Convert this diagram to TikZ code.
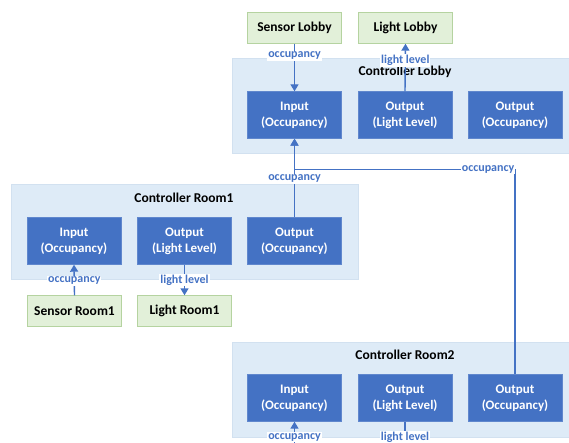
\documentclass[tikz,border=0pt]{standalone}
\usepackage{fontspec}
\setmainfont{Carlito}
\usetikzlibrary{arrows.meta}
\definecolor{ctrlfill}{HTML}{DEEBF7}
\definecolor{ctrledge}{HTML}{D2E1F0}
\definecolor{portfill}{HTML}{4472C4}
\definecolor{devfill}{HTML}{E2F0D9}
\definecolor{devedge}{HTML}{B5D3A0}
\definecolor{wire}{HTML}{4472C4}
\tikzset{
  ctrl/.style={draw=ctrledge, fill=ctrlfill, line width=0.8pt, minimum height=95pt, inner sep=0pt},
  ctrltitle/.style={font=\bfseries\fontsize{13.5}{15}\selectfont, text=black, inner sep=0pt},
  port/.style={draw=portfill!85!white, fill=portfill, minimum width=94pt, minimum height=47pt,
    inner sep=0pt, align=center, text=white, font=\bfseries\fontsize{13}{16}\selectfont},
  device/.style={draw=devedge, fill=devfill, minimum width=94pt, minimum height=31pt,
    inner sep=0pt, font=\bfseries\fontsize{13.5}{15}\selectfont},
  link/.style={draw=wire, line width=1.4pt},
  tip/.style={-{Triangle[length=7pt,width=8pt]}},
  tag/.style={fill=white, text=wire, inner sep=1pt, font=\bfseries\fontsize{12}{13}\selectfont}
}
\begin{document}
\begin{tikzpicture}[x=1pt,y=-1pt]
\useasboundingbox (0,0) rectangle (569,443);

% controllers
\node[ctrl, minimum width=337pt] (cl) at (400.5,105.5) {};
\node[ctrl, minimum width=347pt] (c1) at (184.5,232) {};
\node[ctrl, minimum width=337pt] (c2) at (400.5,390) {};
\node[ctrltitle] (clt) at (405,72) {Controller Lobby};
\node[ctrltitle] (c1t) at (184,198) {Controller Room1};
\node[ctrltitle] (c2t) at (405,355) {Controller Room2};

% lobby
\node[device] (sl) at (294.5,28) {Sensor Lobby};
\node[device] (ll) at (405.5,28) {Light Lobby};
\node[port] (li) at (294.5,115) {Input\\(Occupancy)};
\node[port] (llo) at (405,115) {Output\\(Light Level)};
\node[port] (loo) at (515,115) {Output\\(Occupancy)};

% room 1
\node[port] (r1i) at (74,241) {Input\\(Occupancy)};
\node[port] (r1lo) at (184.5,241) {Output\\(Light Level)};
\node[port] (r1oo) at (294.5,241) {Output\\(Occupancy)};
\node[device] (sr1) at (74.5,311) {Sensor Room1};
\node[device] (lr1) at (184.5,311) {Light Room1};

% room 2
\node[port] (r2i) at (294.5,398) {Input\\(Occupancy)};
\node[port] (r2lo) at (405,398) {Output\\(Light Level)};
\node[port] (r2oo) at (515,398) {Output\\(Occupancy)};

\coordinate (bend) at (294.5,169.5);
\coordinate (r2in) at (294.5,446);
\coordinate (r2out) at (405,446);

% connectors
\draw[link,tip] (sl.south) -- node[tag,pos=0.25] {occupancy} (li.north);
\draw[link,tip] (llo.north) -- node[tag,pos=0.65] {light level} (ll.south);
\draw[link,tip] (r1oo.north) -- node[tag,pos=0.49] {occupancy} (li.south);
\draw[link,tip] (r2oo.north) |- node[tag,pos=0.5,anchor=east,xshift=1pt] {occupancy} (bend) -- (li.south);
\draw[link,tip] (sr1.north) -- node[tag,pos=0.47] {occupancy} (r1i.south);
\draw[link,tip] (r1lo.south) -- node[tag,pos=0.5] {light level} (lr1.north);
\draw[link,tip] (r2in) -- node[tag,pos=0.36] {occupancy} (r2i.south);
\draw[link] (r2lo.south) -- node[tag,pos=0.64] {light level} (r2out);
\end{tikzpicture}
\end{document}
